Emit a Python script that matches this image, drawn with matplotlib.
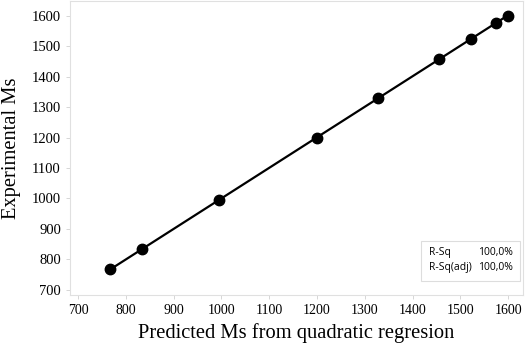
import numpy as np
import matplotlib.pyplot as plt

predicted = np.array([767, 833, 995, 1200, 1327, 1455, 1522, 1574, 1600])
experimental = np.array([767, 833, 995, 1200, 1329, 1457, 1524, 1577, 1600])
r_sq = "100,0%"
r_sq_adj = "100,0%"

fig = plt.figure(figsize=(5.30, 3.51), dpi=100)
ax = fig.add_axes([0.132, 0.1595, 0.855, 0.8375])

# fitted line
coef = np.polyfit(predicted, experimental, 1)
xf = np.array([predicted.min(), predicted.max()])
ax.plot(xf, np.polyval(coef, xf), color="black", lw=1.6, zorder=2)
ax.plot(predicted, experimental, "o", color="black", ms=7.5, zorder=3)

ax.set_xlim(683, 1631)
ax.set_ylim(683, 1648)
ax.set_xticks(np.arange(700, 1601, 100))
ax.set_yticks(np.arange(700, 1601, 100))

for s in ax.spines.values():
    s.set_color("#e0e0e0")
    s.set_linewidth(0.8)
ax.tick_params(colors="#d0d0d0", length=3, width=0.6, labelcolor="black")
for lab in ax.get_xticklabels() + ax.get_yticklabels():
    lab.set_fontfamily("Liberation Serif")
for lab in ax.get_xticklabels():
    lab.set_fontsize(10)
for lab in ax.get_yticklabels():
    lab.set_fontsize(10.5)

ax.set_xlabel("Predicted Ms from quadratic regresion", family="Liberation Serif", fontsize=14.8, labelpad=4)
ax.set_ylabel("Experimental Ms", family="Liberation Serif", fontsize=14.8, labelpad=8)

# summary box
box = plt.Rectangle((0.775, 0.048), 0.219, 0.136, transform=ax.transAxes,
                    facecolor="white", edgecolor="#dddddd", lw=0.8, zorder=4)
ax.add_patch(box)
kw = dict(transform=ax.transAxes, fontsize=7.5, family="Open Sans", va="center", zorder=5)
ax.text(0.792, 0.143, "R-Sq", **kw)
ax.text(0.792, 0.095, "R-Sq(adj)", **kw)
ax.text(0.978, 0.143, r_sq, ha="right", **kw)
ax.text(0.978, 0.095, r_sq_adj, ha="right", **kw)

fig.savefig("out.png", dpi=100)
